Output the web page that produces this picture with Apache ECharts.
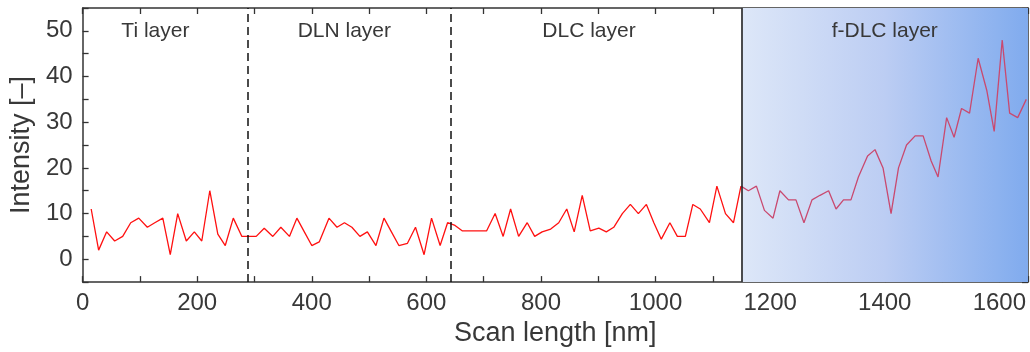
<!DOCTYPE html>
<html>
<head>
<meta charset="utf-8">
<title>Intensity vs scan length</title>
<script src="https://cdn.jsdelivr.net/npm/echarts@6/dist/echarts.min.js"></script>
<style>
  html, body { margin: 0; padding: 0; background: #fff; }
  #chart { width: 1030px; height: 352px; }
</style>
</head>
<body>
<div id="chart"></div>
<script>
// scan positions [nm] and measured intensity
var scanX = [15, 28, 42, 56, 70, 84, 98, 113, 126, 140,
  153, 166, 181, 195, 208, 222, 236, 249, 263, 278,
  290, 303, 317, 332, 346, 361, 374, 387, 400, 413,
  430, 444, 457, 470, 484, 497, 512, 526, 539, 552,
  567, 581, 596, 609, 624, 637, 650, 663, 677, 691,
  705, 720, 734, 747, 761, 776, 789, 802, 817, 831,
  845, 858, 872, 886, 901, 914, 927, 942, 956, 970,
  984, 997, 1010, 1025, 1038, 1052, 1065, 1078, 1094, 1107,
  1122, 1136, 1149, 1162, 1176, 1190, 1205, 1217, 1232, 1245,
  1259, 1273, 1287, 1302, 1315, 1328, 1341, 1354, 1370, 1383,
  1397, 1411, 1424, 1438, 1453, 1467, 1481, 1493, 1508, 1521,
  1534, 1548, 1563, 1578, 1591, 1605, 1618, 1632, 1647]
var intensity = [11, 2, 6, 4, 5, 8, 9, 7, 8, 9,
  1, 10, 4, 6, 4, 15, 5.5, 3, 9, 5,
  5, 5, 6.8, 5, 7, 5, 9, 6, 3, 3.8,
  9, 7, 8, 7, 5, 6, 3, 9, 6, 3,
  3.5, 7, 1, 9, 3, 8, 7.4, 6.2, 6.2, 6.2,
  6.2, 10, 5, 11, 5, 8, 5, 6, 6.6, 8,
  11, 6, 14, 6.2, 6.8, 6, 7, 10, 12, 10,
  12, 8, 4.4, 8, 5, 5, 12, 11, 8, 16,
  10, 8, 16, 15, 16, 10.7, 9, 15, 13, 13,
  8, 13, 14, 15, 11, 13, 13, 18, 22.6, 24,
  20, 10, 20, 25, 27, 27, 21.5, 18, 31, 26.7,
  33, 32, 44, 37, 28, 48, 32, 31, 35]

// layer boundaries [nm] and names
var layerBounds = [0, 289, 642, 1150, 1650]
var layerNames = ['Ti layer', 'DLN layer', 'DLC layer', 'f-DLC layer']
var labelShift = [-10, -5, -7, 0]

var FONT = 'Liberation Sans, Arial, sans-serif'
var TEXT = '#383838'
var AXIS = '#333'

var chart = echarts.init(document.getElementById('chart'))

var fdlcStart = layerBounds[3]
var points = scanX.map(function (x, i) { return [x, intensity[i]] })
// last point before the f-DLC boundary is shared so the two pieces join up
var splitAt = scanX.filter(function (x) { return x < fdlcStart }).length - 1
var redPart = points.slice(0, splitAt + 1)
var fdlcPart = points.slice(splitAt)

var areas = layerNames.map(function (name, i) {
  var last = i === layerNames.length - 1
  return [{
    xAxis: layerBounds[i],
    name: name,
    itemStyle: last ? {
      color: new echarts.graphic.LinearGradient(0, 0, 1, 0, [
        { offset: 0, color: '#dde7f8' },
        { offset: 0.5, color: '#bccdf3' },
        { offset: 1, color: '#80abee' }
      ])
    } : { color: 'rgba(0,0,0,0)' },
    label: { offset: [labelShift[i], 0] }
  }, { xAxis: layerBounds[i + 1] }]
})

var bounds = layerBounds.slice(1, -1).map(function (x) {
  var solid = x === fdlcStart
  return {
    xAxis: x,
    lineStyle: solid ? { type: 'solid', color: '#222', width: 1.6 } : { type: [8, 5], color: '#111', width: 1.5 }
  }
})

function axisBase () {
  return {
    axisLine: { show: true, onZero: false, lineStyle: { color: AXIS, width: 1.5 } },
    axisTick: { inside: true, length: 6, lineStyle: { color: AXIS, width: 1.3 } },
    splitLine: { show: false }
  }
}

var minor = { show: true, splitNumber: 2, length: 6, lineStyle: { color: AXIS, width: 1.3 } }

chart.setOption({
  animation: false,
  textStyle: { fontFamily: FONT },
  grid: { left: 81, right: 2, top: 8, bottom: 69 },
  xAxis: [
    Object.assign(axisBase(), {
      type: 'value',
      min: 0,
      max: 1650,
      interval: 200,
      name: 'Scan length [nm]',
      nameLocation: 'middle',
      nameGap: 31,
      nameTextStyle: { fontSize: 27, color: TEXT, fontFamily: FONT },
      minorTick: minor,
      axisLabel: {
        fontSize: 24,
        color: TEXT,
        margin: 9,
        showMaxLabel: false,
        fontFamily: FONT,
        formatter: function (v) { return String(v) }
      }
    }),
    Object.assign(axisBase(), {
      type: 'value',
      position: 'top',
      min: 0,
      max: 1650,
      interval: 200,
      minorTick: minor,
      axisLabel: { show: false }
    })
  ],
  yAxis: [
    Object.assign(axisBase(), {
      type: 'value',
      min: -5,
      max: 55,
      interval: 5,
      name: 'Intensity [–]',
      nameLocation: 'middle',
      nameGap: 46,
      nameTextStyle: { fontSize: 27, color: TEXT, fontFamily: FONT },
      axisLabel: {
        fontSize: 24,
        color: TEXT,
        margin: 10,
        fontFamily: FONT,
        formatter: function (v) { return v % 10 === 0 ? String(v) : '' }
      }
    }),
    Object.assign(axisBase(), {
      type: 'value',
      position: 'right',
      min: -5,
      max: 55,
      interval: 5,
      axisLabel: { show: false }
    })
  ],
  series: [
    {
      // layers: shaded region, labels and boundaries
      type: 'line',
      data: [],
      z: 1,
      silent: true,
      markArea: {
        silent: true,
        label: {
          position: 'insideTop',
          distance: 13,
          fontSize: 21,
          color: TEXT,
          fontFamily: FONT
        },
        data: areas
      },
      markLine: {
        silent: true,
        symbol: 'none',
        label: { show: false },
        data: bounds
      }
    },
    {
      type: 'line',
      z: 3,
      data: redPart,
      showSymbol: false,
      lineStyle: { width: 1.3, color: '#ff1010' }
    },
    {
      type: 'line',
      z: 3,
      data: fdlcPart,
      showSymbol: false,
      lineStyle: { width: 1.3, color: '#c9496f' }
    }
  ]
})
</script>
</body>
</html>
